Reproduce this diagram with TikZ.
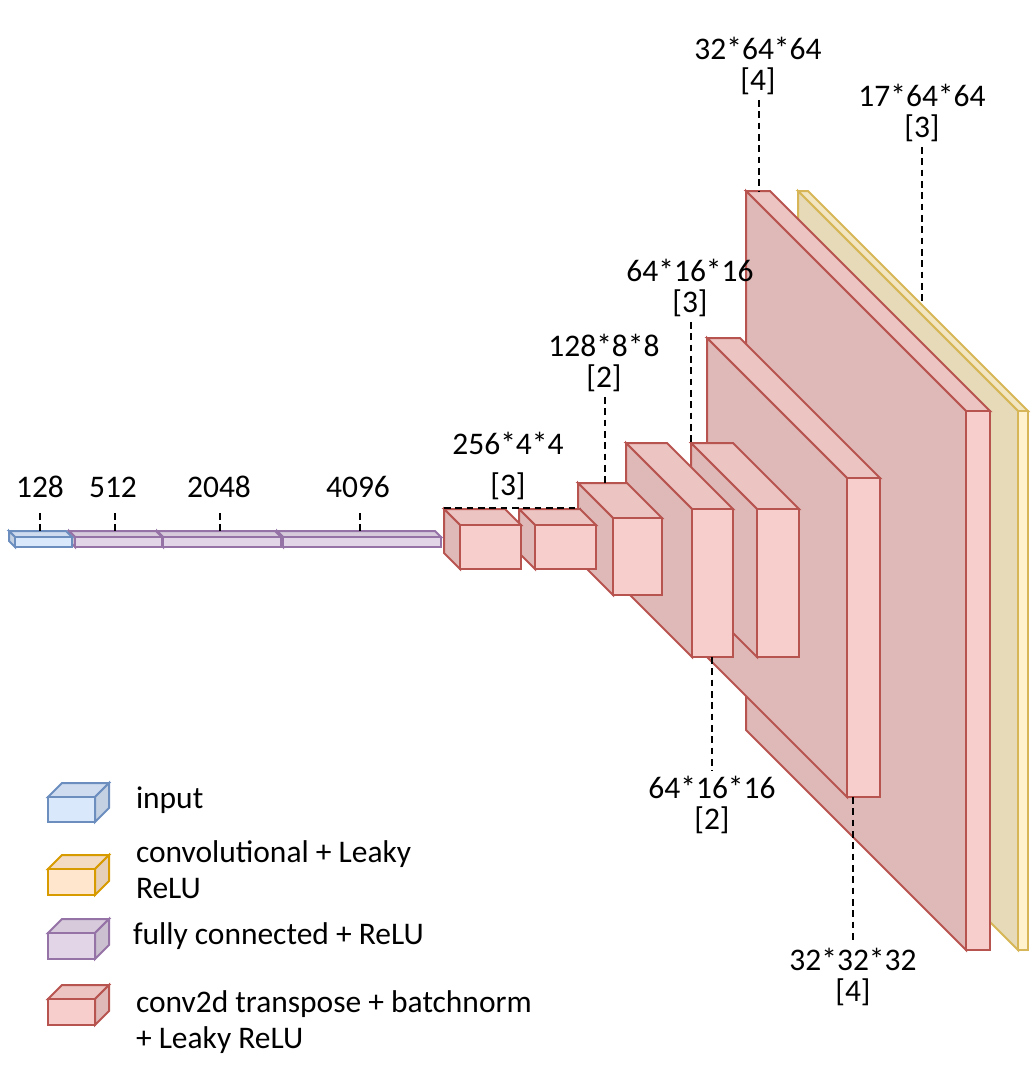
\documentclass[tikz,border=0pt]{standalone}
\usepackage{fontspec}
\setmainfont{Carlito}
\definecolor{redF}{HTML}{F8CECC}\definecolor{redT}{HTML}{ECC4C2}\definecolor{redS}{HTML}{DFB9B8}\definecolor{redD}{HTML}{B85450}
\definecolor{yelF}{HTML}{FFF2CC}\definecolor{yelT}{HTML}{F2E6C2}\definecolor{yelS}{HTML}{E6DAB8}\definecolor{yelD}{HTML}{D6B656}
\definecolor{bluF}{HTML}{DAE8FC}\definecolor{bluT}{HTML}{CFDCEF}\definecolor{bluS}{HTML}{C4D1E3}\definecolor{bluD}{HTML}{6C8EBF}
\definecolor{purF}{HTML}{E1D5E7}\definecolor{purT}{HTML}{D6CADB}\definecolor{purS}{HTML}{CBC0D0}\definecolor{purD}{HTML}{9673A6}
\definecolor{oraF}{HTML}{FFE6CC}\definecolor{oraT}{HTML}{F2DBC2}\definecolor{oraS}{HTML}{E6CFB8}\definecolor{oraD}{HTML}{D79B00}
% cuboid seen from front-right: front rect (x1,y1)-(x2,y2), depth d up-left
\newcommand\mycub[6]{%
  \filldraw[fill=#6T,draw=#6D] (#1,#2) -- ({#1-#5},{#2-#5}) -- ({#3-#5},{#2-#5}) -- (#3,#2) -- cycle;
  \filldraw[fill=#6S,draw=#6D] (#1,#2) -- ({#1-#5},{#2-#5}) -- ({#1-#5},{#4-#5}) -- (#1,#4) -- cycle;
  \filldraw[fill=#6F,draw=#6D] (#1,#2) rectangle (#3,#4);}
% legend cuboid: depth up-right
\newcommand\mylcub[6]{%
  \filldraw[fill=#6T,draw=#6D] (#1,#2) -- ({#1+#5},{#2-#5}) -- ({#3+#5},{#2-#5}) -- (#3,#2) -- cycle;
  \filldraw[fill=#6S,draw=#6D] (#3,#2) -- ({#3+#5},{#2-#5}) -- ({#3+#5},{#4-#5}) -- (#3,#4) -- cycle;
  \filldraw[fill=#6F,draw=#6D] (#1,#2) rectangle (#3,#4);}
\tikzset{
  dl/.style={draw=black,line width=1.5pt,dash pattern=on 5pt off 3.5pt},
  lbl/.style={font=\fontsize{23.6}{23.3}\selectfont,align=center,inner sep=3pt},
  leg/.style={font=\fontsize{23.6}{27}\selectfont,align=left,anchor=west,inner sep=0pt},
}
\begin{document}
\begin{tikzpicture}[x=0.75pt,y=-0.75pt,line width=1.5pt,line join=miter]
\useasboundingbox (0,0) rectangle (1034,1072);
% big slabs, back to front
\mycub{1018}{411}{1028}{950}{220}{yel}
\mycub{966}{411}{990}{950}{220}{red}
\mycub{847}{478}{880}{797}{140}{red}
\mycub{757}{509}{799}{657}{66}{red}
\mycub{692}{509}{733}{657}{66}{red}
\mycub{613}{518}{662}{595}{35}{red}
\mycub{535}{525}{596}{569}{16}{red}
\mycub{460}{525}{521}{569}{16}{red}
% flat blocks
\mycub{283}{537}{441}{547}{6}{pur}
\mycub{163}{537}{281}{547}{6}{pur}
\mycub{75}{537}{162}{547}{6}{pur}
\mycub{15}{537}{72}{547}{6}{blu}
% attachment points
\coordinate (cG) at (759,191);
\coordinate (cY) at (922,304);
\coordinate (cE) at (691,443);
\coordinate (cC) at (605,483);
\coordinate (cD) at (712,657);
\coordinate (cF) at (853,797);
\coordinate (cAl) at (444,508);
\coordinate (cBr) at (580,508);
\coordinate (c128) at (40,531);
\coordinate (c512) at (115,531);
\coordinate (c2048) at (220,531);
\coordinate (c4096) at (360,531);
% labels
\node[lbl] (lG) at (758,66) {32*64*64\\{[4]}};
\node[lbl] (lY) at (922,113) {17*64*64\\{[3]}};
\node[lbl] (lE) at (690,288) {64*16*16\\{[3]}};
\node[lbl] (lC) at (604,363) {128*8*8\\{[2]}};
\node[lbl] (lAB) at (508,466) {256*4*4\\[7pt]{[3]}};
\node[lbl] (lD) at (712,805) {64*16*16\\{[2]}};
\node[lbl] (lF) at (853,977) {32*32*32\\{[4]}};
\node[lbl] (l128) at (40,487) {128};
\node[lbl] (l512) at (113,487) {512};
\node[lbl] (l2048) at (219,487) {2048};
\node[lbl] (l4096) at (358,487) {4096};
% dashed connectors
\draw[dl] (cG |- lG.south) -- (cG);
\draw[dl] (cY |- lY.south) -- (cY);
\draw[dl] (cE |- lE.south) -- (cE);
\draw[dl] (cC |- lC.south) -- (cC);
\draw[dl] (cD) -- (cD |- lD.north);
\draw[dl] (cF) -- (cF |- lF.north);
\draw[dl] (cAl) -- (cBr);
\draw[dl] (c128) ++(0,-18) -- (c128);
\draw[dl] (c512) ++(0,-18) -- (c512);
\draw[dl] (c2048) ++(0,-18) -- (c2048);
\draw[dl] (c4096) ++(0,-18) -- (c4096);
% legend
\mylcub{48}{797}{95}{822}{14}{blu}
\mylcub{48}{869}{95}{895}{14}{ora}
\mylcub{48}{933}{95}{959}{14}{pur}
\mylcub{48}{999}{95}{1025}{14}{red}
\node[leg] (t1) at (135,800) {input};
\node[leg] (t2) at (135,870) {convolutional + Leaky\\ReLU};
\node[leg] (t3) at (132,936) {fully connected + ReLU};
\node[leg] (t4) at (135,1022) {conv2d transpose + batchnorm\\+ Leaky ReLU};
\end{tikzpicture}
\end{document}
